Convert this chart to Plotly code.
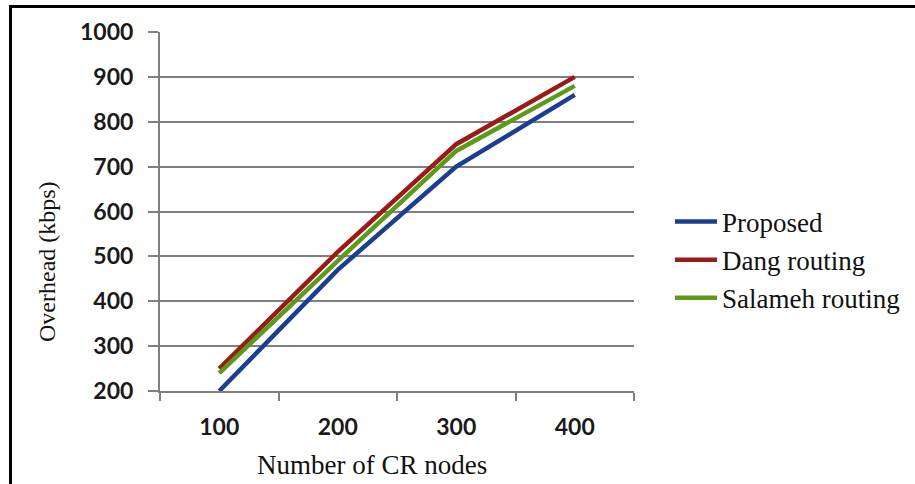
import plotly.graph_objects as go

categories = ["100", "200", "300", "400"]
proposed = [200, 470, 700, 860]
dang = [250, 510, 750, 900]
salameh = [240, 490, 735, 880]
y_ticks = [200, 300, 400, 500, 600, 700, 800, 900, 1000]

series = [
    ("Proposed", proposed, "#1c3d92"),
    ("Dang routing", dang, "#9a1a1a"),
    ("Salameh routing", salameh, "#5c9a1c"),
]

L, R, T, B = 160, 634, 32, 391
W, H = 915, 484
pw, ph = R - L, B - T

def px_x(x):
    return (x - L) / pw

def px_y(y):
    return (B - y) / ph

fig = go.Figure()
for i, (name, vals, col) in enumerate(series):
    fig.add_trace(go.Scatter(
        x=categories, y=vals, name=name, mode="lines",
        line=dict(color=col, width=4.5),
        legendgroup=f"g{i}",
    ))

serif = "Liberation Serif, Times New Roman, DejaVu Serif, serif"
tickfont = dict(family="Lato, sans-serif", size=23, color="#1a1a1a", weight="bold")
fig.update_layout(
    width=W, height=H,
    margin=dict(l=L, r=W - R, t=T, b=H - B, pad=0, autoexpand=False),
    paper_bgcolor="white", plot_bgcolor="white",
    showlegend=True,
    legend=dict(
        x=px_x(670), y=px_y(260), xanchor="left", yanchor="middle",
        font=dict(family=serif, size=27, color="#111111"),
        tracegroupgap=0, bgcolor="rgba(0,0,0,0)", itemwidth=42,
    ),
    xaxis=dict(
        type="category", range=[-0.5, 3.5],
        tickson="boundaries", ticks="outside", ticklen=8, tickwidth=2,
        tickcolor="#7f7f7f",
        showline=True, linecolor="#7f7f7f", linewidth=2,
        showgrid=False, zeroline=False,
        tickfont=tickfont,
        ticklabelstandoff=14,
    ),
    yaxis=dict(
        range=[200, 1000], tickvals=y_ticks,
        ticks="outside", ticklen=10, tickwidth=1.5, tickcolor="#7f7f7f",
        showline=True, linecolor="#7f7f7f", linewidth=2,
        showgrid=True, gridcolor="#7f7f7f", gridwidth=1.5,
        zeroline=False,
        tickfont=tickfont,
        ticklabelstandoff=10,
    ),
    annotations=[
        dict(text="Number of CR nodes", x=px_x(372), y=px_y(465),
             xref="paper", yref="paper", showarrow=False,
             xanchor="center", yanchor="middle",
             font=dict(family=serif, size=27, color="#111111")),
        dict(text="Overhead (kbps)", x=px_x(47), y=px_y(262),
             xref="paper", yref="paper", showarrow=False, textangle=-90,
             xanchor="center", yanchor="middle",
             font=dict(family=serif, size=24, color="#111111")),
    ],
    shapes=[
        dict(type="line", xref="paper", yref="paper",
             x0=px_x(10.5), x1=px_x(915), y0=px_y(6.5), y1=px_y(6.5),
             line=dict(color="black", width=3)),
        dict(type="line", xref="paper", yref="paper",
             x0=px_x(10.5), x1=px_x(10.5), y0=px_y(5), y1=px_y(484),
             line=dict(color="black", width=3)),
    ],
)

fig.write_html("out.html")
